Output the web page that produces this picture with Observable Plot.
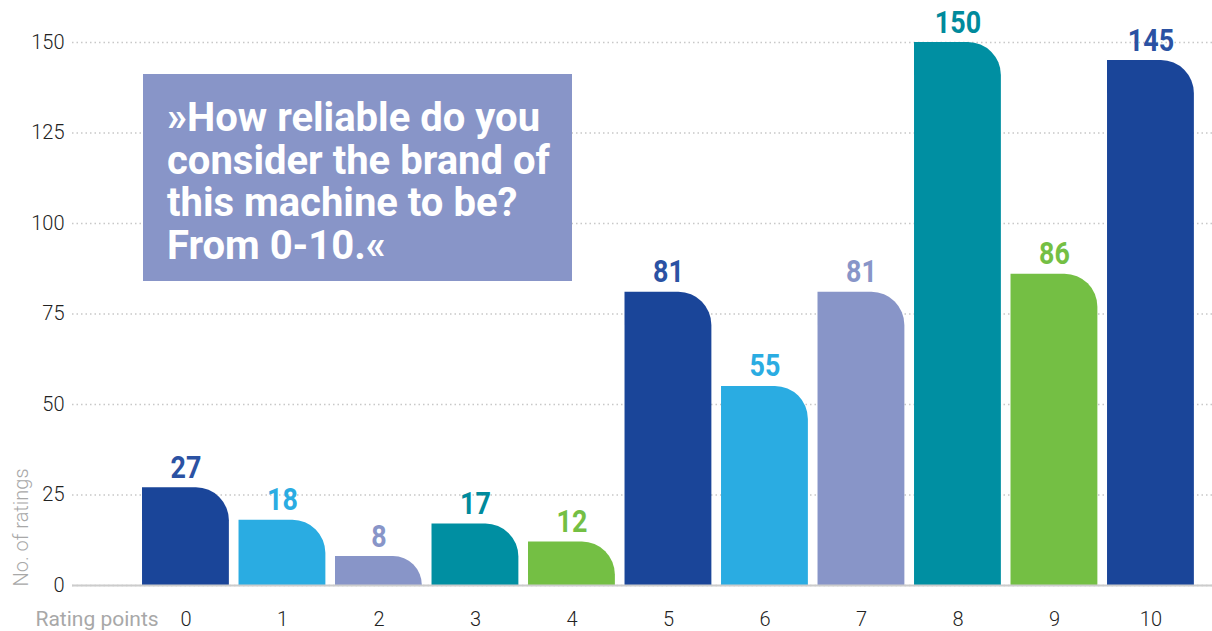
<!DOCTYPE html>
<html>
<head>
<meta charset="utf-8">
<script src="https://cdn.jsdelivr.net/npm/d3@7"></script>
<script src="https://cdn.jsdelivr.net/npm/@observablehq/plot@0.6"></script>
<style>
  html, body { margin: 0; padding: 0; background: #fff; }
  #wrap { position: relative; width: 1212px; height: 631px; font-family: Roboto, "Noto Sans", sans-serif; }
  #title {
    position: absolute; left: 143px; top: 74px; width: 429px; height: 207px;
    box-sizing: border-box; padding: 23px 0 0 24px;
    background: #8895c8; color: #fff; font-weight: 700; font-size: 40px; line-height: 42.5px;
  }
</style>
</head>
<body>
<div id="wrap"><div id="chart"></div><div id="title">»How reliable do you consider the brand of this machine to be? From 0-10.«</div></div>
<script>
const ratings = ["0","1","2","3","4","5","6","7","8","9","10"];
const counts = [27, 18, 8, 17, 12, 81, 55, 81, 150, 86, 145];
const yTicks = [0, 25, 50, 75, 100, 125, 150];
const palette = ["#1a4599", "#2aace2", "#8895c8", "#008fa2", "#74bf44"];
const labelPalette = ["#2b52a3", "#2aace2", "#8895c8", "#008a9c", "#74bf44"];
const xLabel = "Rating points";
const yLabel = "No. of ratings";

const data = ratings.map((r, i) => ({rating: r, count: counts[i], labelColor: labelPalette[i % labelPalette.length]}));

const chart = Plot.plot({
  width: 1212,
  height: 631,
  marginTop: 42,
  marginBottom: 46,
  marginLeft: 72,
  marginRight: 0,
  style: {fontFamily: "Roboto, sans-serif", background: "#fff"},
  x: {domain: ratings, range: [137.2, 1198.7], paddingInner: 0.1, paddingOuter: 0.05, round: false, axis: null},
  y: {domain: [0, 150], axis: null},
  color: {domain: ratings, range: palette},
  marks: [
    Plot.gridY(yTicks, {stroke: "#c8c8c8", strokeOpacity: 1, strokeWidth: 1.5, strokeDasharray: "1.5,3"}),
    Plot.axisY(yTicks, {tickSize: 0, tickPadding: 8, fontSize: 20, fill: "#222", fontWeight: 300, label: null}),
    Plot.axisX(ratings, {tickSize: 0, tickPadding: 26, fontSize: 20, fill: "#222", fontWeight: 300, label: null}),
    Plot.barY(data, {x: "rating", y: "count", fill: "rating", rx2y1: 33}),
    Plot.ruleY([0], {stroke: "#cccccc", strokeWidth: 2}),
    Plot.text(data, {x: "rating", y: "count", text: d => String(d.count), fill: "labelColor",
      fontSize: 32, fontWeight: 700, lineAnchor: "bottom", dy: -10, className: "vlabel"}),
    Plot.text([xLabel], {frameAnchor: "bottom-left", text: d => d, textAnchor: "start", lineAnchor: "bottom",
      dx: -37, dy: 40, fontSize: 21, fill: "#a8a8a8", fontWeight: 400}),
    Plot.text([yLabel], {frameAnchor: "bottom-left", text: d => d, rotate: -90, textAnchor: "start", lineAnchor: "bottom",
      dx: -45, dy: 1, fontSize: 20, fill: "#a8a8a8", fontWeight: 300})
  ]
});
// narrow the value labels to mimic the condensed face
d3.select(chart).selectAll(".vlabel text").each(function() {
  const t = this.getAttribute("transform") || "";
  this.setAttribute("transform", t + " scale(0.84,1)");
});
document.getElementById("chart").appendChild(chart);
</script>
</body>
</html>
